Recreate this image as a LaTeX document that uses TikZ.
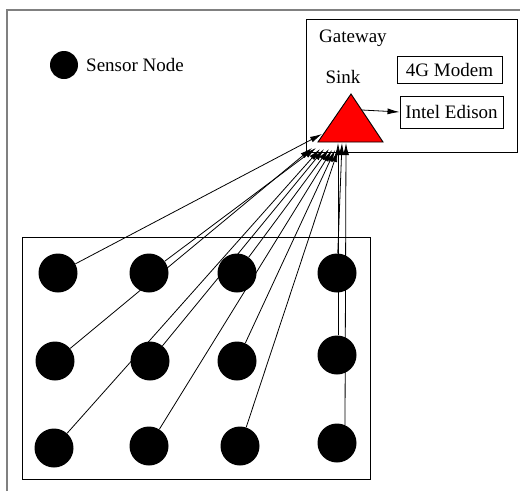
\documentclass[tikz,border=0pt]{standalone}
\usepackage{fontspec}
\setmainfont{Liberation Serif}
\usetikzlibrary{arrows.meta}
\begin{document}
\begin{tikzpicture}[x=1pt,y=-1pt,
  sensor/.style={circle,fill=black,draw=none,minimum size=39pt,inner sep=0pt},
  lbl/.style={font=\fontsize{19}{22}\selectfont,inner sep=0pt},
  boxlbl/.style={lbl,draw=black,line width=0.9pt},
  link/.style={draw=black,line width=0.8pt,-{Latex[length=12pt,width=6pt]}}]
\useasboundingbox (0,0) rectangle (520,491);
% outer frame (top and left only)
\draw[gray,line width=1.5pt] (7,491) -- (7,10) -- (520,10);
% gateway box
\draw[line width=0.9pt] (306,19) rectangle (517,152);
\node[lbl,anchor=west] (gw) at (319,38) {Gateway};
\node[lbl] (sinklbl) at (343,77) {Sink};
\node[boxlbl,minimum width=105pt,minimum height=27pt] (modem) at (449.5,69.5) {4G Modem};
\node[boxlbl,minimum width=103pt,minimum height=32pt] (edison) at (451.5,112) {Intel Edison};
% sink triangle
\draw[fill=red,line width=0.9pt] (351,94) -- (383,142) -- (318,142) -- cycle;
\coordinate (sinkout) at (362,110);
\draw[link] (sinkout) -- (edison.west);
% legend
\node[sensor,minimum size=28pt] (legend) at (64,65) {};
\node[lbl,anchor=west] (legendlbl) at (86,65) {Sensor Node};
% sensor field
\draw[line width=0.9pt] (22,237) rectangle (370,479);
\node[sensor] (n11) at (58,273) {};
\node[sensor] (n12) at (149,273) {};
\node[sensor] (n13) at (237,273) {};
\node[sensor] (n14) at (337,273) {};
\node[sensor] (n21) at (55,361) {};
\node[sensor] (n22) at (150,361) {};
\node[sensor] (n23) at (237,361) {};
\node[sensor] (n24) at (337,355) {};
\node[sensor] (n31) at (54,448) {};
\node[sensor] (n32) at (149,446) {};
\node[sensor] (n33) at (240,446) {};
\node[sensor] (n34) at (337,443) {};
% arrow targets at the sink
\coordinate (t11) at (322,134);
\coordinate (t21) at (312,148);
\coordinate (t12) at (316,148);
\coordinate (t31) at (320,149);
\coordinate (t22) at (324,149);
\coordinate (t13) at (329,149);
\coordinate (t32) at (332,150);
\coordinate (t23) at (335,150);
\coordinate (t33) at (338,150);
\coordinate (t24) at (338,143);
\coordinate (t14) at (342,143);
\coordinate (t34) at (346,143);
\foreach \n in {11,12,13,21,22,23,31,32,33}
  \draw[link] (n\n) -- (t\n);
\draw[link] (n24.north) ++(1,0) -- (t24);
\draw[link] (n14) -- (t14);
\draw[link] (n34.north) ++(8,2) -- (t34);
\end{tikzpicture}
\end{document}
